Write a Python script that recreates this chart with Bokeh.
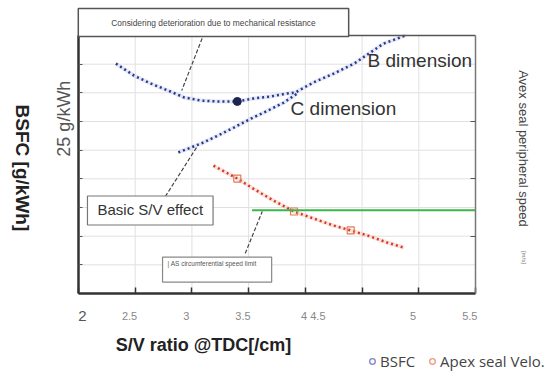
import math
from bokeh.plotting import figure
from bokeh.models import (Label, Legend, LegendItem, LinearAxis, FixedTicker,
                          Range1d, CustomLabelingPolicy)
from bokeh.embed import file_html
from bokeh.resources import INLINE

# ---- data (arbitrary BSFC units, x = S/V ratio) ----
bsfc_b_x = [2.33, 2.49, 2.64, 2.79, 2.93, 3.08, 3.23, 3.40, 3.54, 3.69, 3.84,
            3.91, 4.07, 4.25, 4.43, 4.69, 4.81, 4.88]
bsfc_b_y = [8.02, 7.60, 7.32, 7.08, 6.84, 6.73, 6.70, 6.70, 6.80, 6.87, 6.98,
            7.01, 7.36, 7.67, 8.02, 8.72, 8.89, 9.00]
bsfc_b_marked = [7]

bsfc_c_x = [2.88, 3.08, 3.23, 3.37, 3.52, 3.67, 3.81, 3.93]
bsfc_c_y = [4.92, 5.23, 5.51, 5.79, 6.10, 6.38, 6.66, 6.98]

apex_x = [3.19, 3.40, 3.54, 3.72, 3.90, 4.07, 4.25, 4.40, 4.55, 4.72, 4.87]
apex_y = [4.46, 4.01, 3.66, 3.24, 2.86, 2.62, 2.37, 2.20, 2.02, 1.78, 1.60]
apex_marked = [1, 4, 7]

speed_limit_y = 2.90
speed_limit_x = [3.53, 5.5]

x_min, x_max = 2, 5.5
y_min, y_max = 0, 9
x_ticks = [2, 2.5, 3, 3.5, 4, 4.5, 5, 5.5]
x_tick_labels = ["2", "2.5", "3", "3.5", "4 4.5", "", "5", "5.5"]
y_ticks = [1, 2, 3, 4, 5, 6, 7, 8]
right_ticks = [2, 4, 6]

# leader lines of the annotations (x0, y0, x1, y1)
leader_x0 = [3.09, 3.04, 3.47]
leader_y0 = [8.90, 5.09, 1.40]
leader_x1 = [2.91, 2.76, 3.62]
leader_y1 = [7.08, 3.35, 2.86]

FONT = "Liberation Sans"

FW, FH = 556, 376
PX_X = 397 / (x_max - x_min)     # pixels per x unit in the plot area
PX_Y = 258 / (y_max - y_min)     # pixels per y unit
xr = Range1d(x_min - 78 / PX_X, x_min - 78 / PX_X + FW / PX_X)
yr = Range1d(y_max + 35 / PX_Y - FH / PX_Y, y_max + 35 / PX_Y)

p = figure(frame_width=FW, frame_height=FH, x_range=xr, y_range=yr,
           output_backend="svg", toolbar_location=None,
           min_border=0, background_fill_color="white",
           border_fill_color="white")
p.outline_line_color = None
p.grid.visible = False

# grid lines drawn from the tick lists
gx = x_ticks[1:-1]
p.segment(gx, [y_min] * len(gx), gx, [y_max] * len(gx), line_color="#e0e0e0", line_width=1)
p.segment([x_min] * len(y_ticks), y_ticks, [x_max] * len(y_ticks), y_ticks,
          line_color="#e0e0e0", line_width=1)

NO_LABELS = "for (const i of indices) { indices.unset(i) }\nreturn indices"


def style_axis(ax):
    ax.major_label_text_font_size = "0px"
    ax.major_label_standoff = 0
    ax.major_label_policy = CustomLabelingPolicy(code=NO_LABELS)
    ax.major_tick_out = 0
    ax.minor_tick_line_color = None
    ax.minor_tick_out = 0
    ax.minor_tick_in = 0


# bottom axis
xa = p.xaxis[0]
style_axis(xa)
xa.ticker = FixedTicker(ticks=x_ticks)
xa.fixed_location = y_min
xa.bounds = (x_min, x_max)
xa.axis_line_color = "#333333"
xa.axis_line_width = 2.5
xa.major_tick_in = 6
xa.major_tick_line_color = "#333333"
xa.major_tick_line_width = 1.5

# left axis
ya = p.yaxis[0]
style_axis(ya)
ya.ticker = FixedTicker(ticks=y_ticks)
ya.fixed_location = x_min
ya.bounds = (y_min, y_max)
ya.axis_line_color = "#333333"
ya.axis_line_width = 2.5
ya.major_tick_in = 4
ya.major_tick_line_color = "#555555"

# right axis
ra = LinearAxis(ticker=FixedTicker(ticks=right_ticks), fixed_location=x_max,
                bounds=(y_min, y_max), major_tick_in=5,
                axis_line_color="#777777", axis_line_width=1.5,
                major_tick_line_color="#555555")
style_axis(ra)
p.add_layout(ra, "right")

# top border
ta = LinearAxis(ticker=FixedTicker(ticks=[]), fixed_location=y_max,
                bounds=(x_min, x_max), axis_line_color="#555555", axis_line_width=1.5)
style_axis(ta)
p.add_layout(ta, "above")

# curves
p.line(bsfc_b_x, bsfc_b_y, line_color="#c9d2f2", line_width=4, line_alpha=0.5)
p.line(bsfc_b_x, bsfc_b_y, line_color="#2b3a86", line_width=2.5, line_dash="2 3")
p.line(bsfc_c_x, bsfc_c_y, line_color="#c9d2f2", line_width=4, line_alpha=0.5)
p.line(bsfc_c_x, bsfc_c_y, line_color="#2b3a86", line_width=2.5, line_dash="2 3")
p.scatter([bsfc_b_x[i] for i in bsfc_b_marked], [bsfc_b_y[i] for i in bsfc_b_marked],
          marker="circle", size=8, fill_color="#1d2450", line_color="#1d2450")

p.line(apex_x, apex_y, line_color="#f6c8b8", line_width=4, line_alpha=0.5)
p.line(apex_x, apex_y, line_color="#d8352b", line_width=2.5, line_dash="2 3")
p.scatter([apex_x[i] for i in apex_marked], [apex_y[i] for i in apex_marked],
          marker="square", size=7, fill_color=None, line_color="#e07a55", line_width=1.2)

p.line(speed_limit_x, [speed_limit_y] * 2, line_color="#3cb54a", line_width=2)

p.segment(leader_x0, leader_y0, leader_x1, leader_y1, line_color="#444444",
          line_width=1.2, line_dash="4 2")


# texts
def lab(x, y, text, size, color="#222222", angle=0, align="center", style="normal", **kw):
    l = Label(x=x, y=y, text=text, text_font=FONT, text_font_size=size, text_color=color,
              angle=angle, text_align=align, text_baseline="middle",
              text_font_style=style, **kw)
    p.add_layout(l)
    return l


# tick labels
tick_label_dx = {2: 0.035, 4: 0.07}
for t, s in zip(x_ticks, x_tick_labels):
    if not s:
        continue
    if t == x_min:
        lab(t + tick_label_dx[t], -0.77, s, "15px", "#555555")
    else:
        lab(t + tick_label_dx.get(t, -0.05), -0.77, s, "11px", "#888888")

lab(1.506, 4.29, "BSFC  [g/kWh]", "19px", "#222222", angle=-math.pi / 2, style="bold")
lab(1.868, 6.10, "25 g/kWh", "18px", "#555555", angle=math.pi / 2)
lab(5.924, 5.06, "Avex seal peripheral speed", "13px", "#444444", angle=-math.pi / 2)
lab(5.924, 1.26, "[m/s]", "6px", "#777777", angle=-math.pi / 2)
lab(3.102, -1.81, "S/V ratio @TDC[/cm]", "18px", "#222222", style="bold")
lab(4.548, 8.13, "B dimension", "19px", "#333333", align="left")
lab(3.870, 6.45, "C dimension", "19px", "#333333", align="left")

lab(3.190, 9.45, "Considering deterioration due to mechanical resistance", "8.4px",
    "#444444", border_line_color="#555555", border_line_width=1.5,
    background_fill_color="white",
    padding=dict(left=33, right=33, top=9, bottom=9))
lab(2.079, 2.895, "Basic S/V effect", "15px", "#333333", align="left",
    border_line_color="#777777", border_line_width=1.2, background_fill_color="white",
    padding=dict(left=10, right=10, top=5, bottom=7))
lab(2.741, 0.836, "| AS circumferential speed limit", "6.5px", "#555555", align="left",
    border_line_color="#888888", border_line_width=1.2, background_fill_color="white",
    padding=dict(left=5, right=15, top=3, bottom=15))

# legend (bottom right); the legend renderers hold the series but are hidden
r_b = p.scatter(bsfc_b_x, bsfc_b_y, marker="circle", size=6, fill_color=None,
                line_color="#7d84c4", line_width=1.3, visible=False)
r_a = p.scatter(apex_x, apex_y, marker="circle", size=6, fill_color=None,
                line_color="#eb9a80", line_width=1.3, visible=False)
legend = Legend(items=[LegendItem(label="BSFC", renderers=[r_b], index=0),
                       LegendItem(label="Apex seal Velo.", renderers=[r_a], index=0)],
                location=(365, 5), orientation="horizontal", padding=0, margin=0,
                spacing=10, glyph_width=14, glyph_height=16, label_height=16,
                label_standoff=1, inactive_fill_alpha=0,
                label_text_font="Open Sans", label_text_font_size="15px",
                label_text_color="#444444", border_line_color=None,
                background_fill_alpha=0)
p.add_layout(legend)

open("out.html", "w").write(file_html(p, INLINE))
